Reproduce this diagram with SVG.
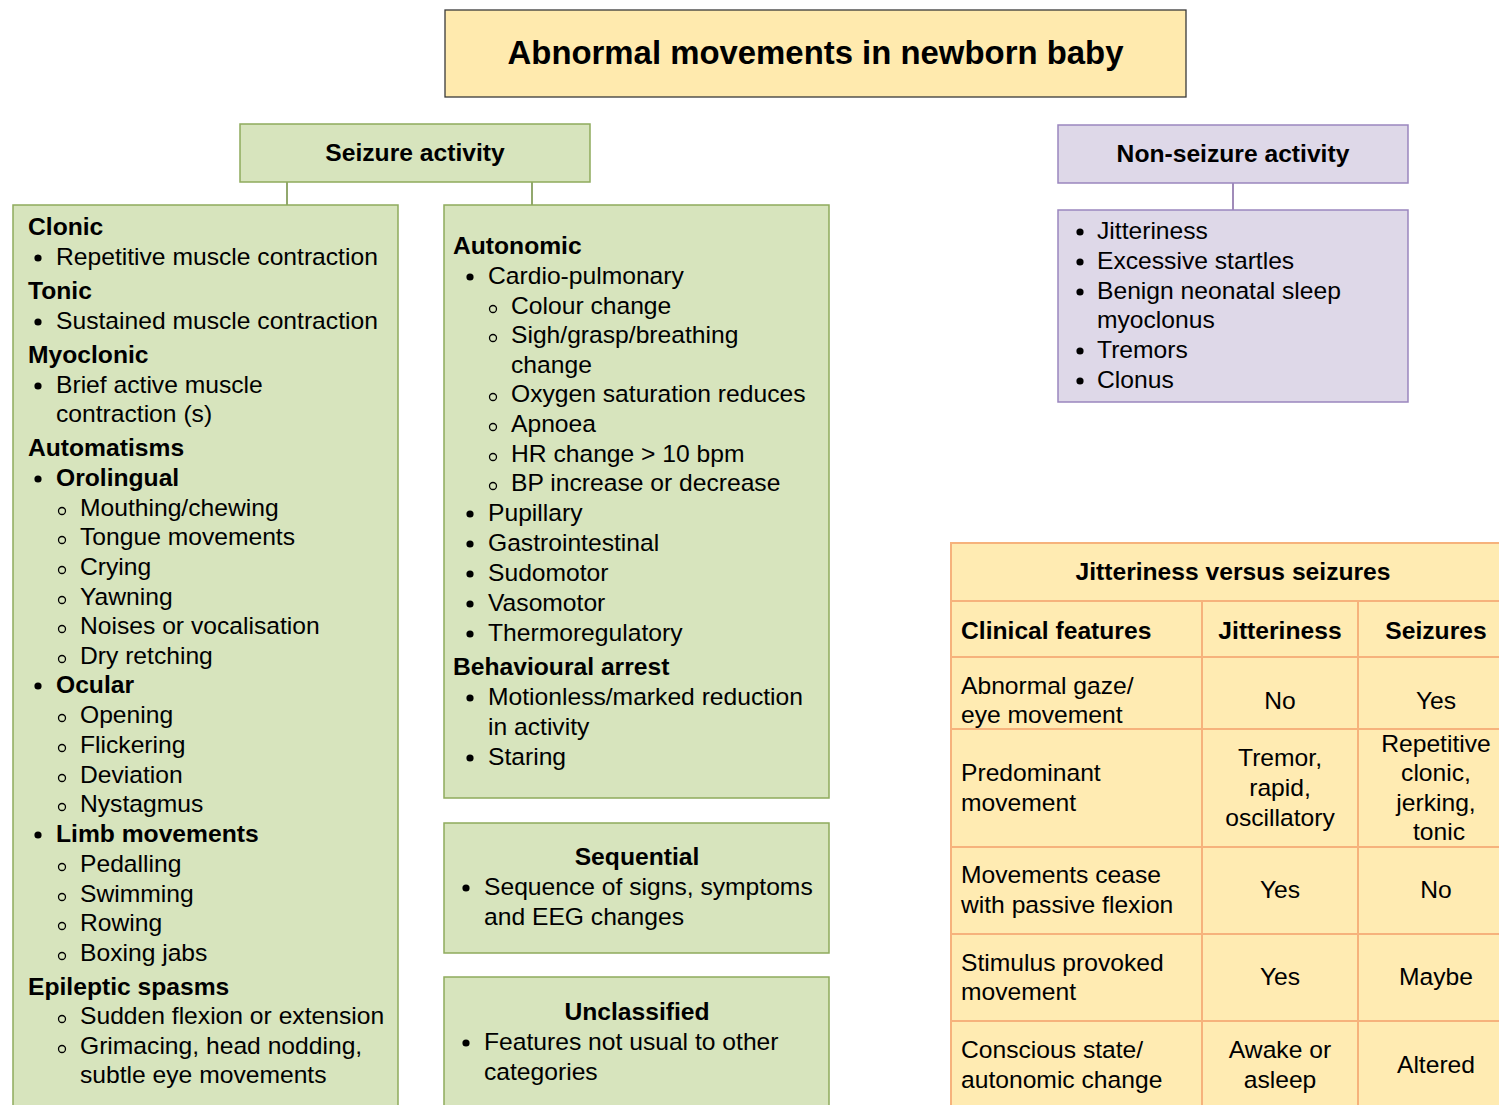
<svg xmlns="http://www.w3.org/2000/svg" width="1499" height="1105" viewBox="0 0 1499 1105">
<style>
text{font-family:"Liberation Sans",Arial,sans-serif;font-size:24.65px;fill:#000}
.b{font-weight:bold}
.c{text-anchor:middle}
.g{fill:#D7E4BD;stroke:#8FAB5C;stroke-width:1.5}
.p{fill:#DED8E8;stroke:#9A86BE;stroke-width:1.5}
.y{fill:#FFEAAE;stroke:#3a3a3a;stroke-width:1.3}
.tb{fill:#FFEBB2;stroke:none}
.tl{stroke:#F6B27C;stroke-width:2;fill:none}
.dot{fill:#000}
.sub{fill:none;stroke:#000;stroke-width:1.3}
.cg{stroke:#6E8B3D;stroke-width:1.5}
.cp{stroke:#8064A2;stroke-width:1.5}
</style>
<defs>
<circle id="bu" r="3.6" class="dot"/>
<circle id="sb" r="3.5" class="sub"/>
</defs>
<rect width="1499" height="1105" fill="#fff"/>

<g id="connectors">
<line class="cg" x1="287" y1="182" x2="287" y2="205"/>
<line class="cg" x1="532" y1="182" x2="532" y2="205"/>
<line class="cp" x1="1233" y1="183" x2="1233" y2="210"/>
</g>

<g id="title">
<rect class="y" x="445" y="10" width="741" height="87"/>
<text class="b c" x="815.5" y="64" style="font-size:32.9px">Abnormal movements in newborn baby</text>
</g>

<g id="seizure">
<rect class="g" x="240" y="124" width="350" height="58"/>
<text class="b c" x="415" y="161">Seizure activity</text>
</g>

<g id="seizure-left">
<rect class="g" x="13" y="205" width="385" height="910"/>
<text class="b" x="28" y="235">Clonic</text>
<use href="#bu" x="38" y="258"/><text x="56" y="265">Repetitive muscle contraction</text>
<text class="b" x="28" y="299">Tonic</text>
<use href="#bu" x="38" y="322"/><text x="56" y="329">Sustained muscle contraction</text>
<text class="b" x="28" y="363">Myoclonic</text>
<use href="#bu" x="38" y="386"/><text x="56" y="393">Brief active muscle</text>
<text x="56" y="422">contraction (s)</text>
<text class="b" x="28" y="456">Automatisms</text>
<use href="#bu" x="38" y="479"/><text class="b" x="56" y="486">Orolingual</text>
<use href="#sb" x="62" y="511"/><text x="80" y="516">Mouthing/chewing</text>
<use href="#sb" x="62" y="540"/><text x="80" y="545">Tongue movements</text>
<use href="#sb" x="62" y="570"/><text x="80" y="575">Crying</text>
<use href="#sb" x="62" y="600"/><text x="80" y="605">Yawning</text>
<use href="#sb" x="62" y="629"/><text x="80" y="634">Noises or vocalisation</text>
<use href="#sb" x="62" y="659"/><text x="80" y="664">Dry retching</text>
<use href="#bu" x="38" y="686"/><text class="b" x="56" y="693">Ocular</text>
<use href="#sb" x="62" y="718"/><text x="80" y="723">Opening</text>
<use href="#sb" x="62" y="748"/><text x="80" y="753">Flickering</text>
<use href="#sb" x="62" y="778"/><text x="80" y="783">Deviation</text>
<use href="#sb" x="62" y="807"/><text x="80" y="812">Nystagmus</text>
<use href="#bu" x="38" y="835"/><text class="b" x="56" y="842">Limb movements</text>
<use href="#sb" x="62" y="867"/><text x="80" y="872">Pedalling</text>
<use href="#sb" x="62" y="897"/><text x="80" y="902">Swimming</text>
<use href="#sb" x="62" y="926"/><text x="80" y="931">Rowing</text>
<use href="#sb" x="62" y="956"/><text x="80" y="961">Boxing jabs</text>
<text class="b" x="28" y="995">Epileptic spasms</text>
<use href="#sb" x="62" y="1019"/><text x="80" y="1024">Sudden flexion or extension</text>
<use href="#sb" x="62" y="1049"/><text x="80" y="1054">Grimacing, head nodding,</text>
<text x="80" y="1083">subtle eye movements</text>
</g>

<g id="seizure-middle">
<rect class="g" x="444" y="205" width="385" height="593"/>
<text class="b" x="453" y="254">Autonomic</text>
<use href="#bu" x="470" y="277"/><text x="488" y="284">Cardio-pulmonary</text>
<use href="#sb" x="493" y="309"/><text x="511" y="314">Colour change</text>
<use href="#sb" x="493" y="338"/><text x="511" y="343">Sigh/grasp/breathing</text>
<text x="511" y="373">change</text>
<use href="#sb" x="493" y="397"/><text x="511" y="402">Oxygen saturation reduces</text>
<use href="#sb" x="493" y="427"/><text x="511" y="432">Apnoea</text>
<use href="#sb" x="493" y="457"/><text x="511" y="462">HR change &gt; 10 bpm</text>
<use href="#sb" x="493" y="486"/><text x="511" y="491">BP increase or decrease</text>
<use href="#bu" x="470" y="514"/><text x="488" y="521">Pupillary</text>
<use href="#bu" x="470" y="544"/><text x="488" y="551">Gastrointestinal</text>
<use href="#bu" x="470" y="574"/><text x="488" y="581">Sudomotor</text>
<use href="#bu" x="470" y="604"/><text x="488" y="611">Vasomotor</text>
<use href="#bu" x="470" y="634"/><text x="488" y="641">Thermoregulatory</text>
<text class="b" x="453" y="675">Behavioural arrest</text>
<use href="#bu" x="470" y="698"/><text x="488" y="705">Motionless/marked reduction</text>
<text x="488" y="735">in activity</text>
<use href="#bu" x="470" y="758"/><text x="488" y="765">Staring</text>
</g>

<g id="sequential">
<rect class="g" x="444" y="823" width="385" height="130"/>
<text class="b c" x="637" y="865">Sequential</text>
<use href="#bu" x="466" y="888"/><text x="484" y="895">Sequence of signs, symptoms</text>
<text x="484" y="925">and EEG changes</text>
</g>

<g id="unclassified">
<rect class="g" x="444" y="977" width="385" height="140"/>
<text class="b c" x="637" y="1020">Unclassified</text>
<use href="#bu" x="466" y="1043"/><text x="484" y="1050">Features not usual to other</text>
<text x="484" y="1080">categories</text>
</g>

<g id="non-seizure">
<rect class="p" x="1058" y="125" width="350" height="58"/>
<text class="b c" x="1233" y="162">Non-seizure activity</text>
</g>

<g id="non-seizure-list">
<rect class="p" x="1058" y="210" width="350" height="192"/>
<use href="#bu" x="1080" y="232"/><text x="1097" y="239">Jitteriness</text>
<use href="#bu" x="1080" y="262"/><text x="1097" y="269">Excessive startles</text>
<use href="#bu" x="1080" y="292"/><text x="1097" y="299">Benign neonatal sleep</text>
<text x="1097" y="328">myoclonus</text>
<use href="#bu" x="1080" y="351"/><text x="1097" y="358">Tremors</text>
<use href="#bu" x="1080" y="381"/><text x="1097" y="388">Clonus</text>
</g>

<g id="table">
<rect class="tb" x="951" y="543" width="560" height="570"/>
<path class="tl" d="M951 1110V543H1510M951 601H1510M951 657H1510M951 729H1510M951 847H1510M951 934H1510M951 1021H1510M1202 601V1110M1358 601V1110"/>
<text class="b c" x="1233" y="580">Jitteriness versus seizures</text>
<text class="b" x="961" y="639">Clinical features</text>
<text class="b c" x="1280" y="639">Jitteriness</text>
<text class="b c" x="1436" y="639">Seizures</text>
<text x="961" y="694">Abnormal gaze/</text>
<text x="961" y="723">eye movement</text>
<text class="c" x="1280" y="709">No</text>
<text class="c" x="1436" y="709">Yes</text>
<text x="961" y="781">Predominant</text>
<text x="961" y="811">movement</text>
<text class="c" x="1280" y="766">Tremor,</text>
<text class="c" x="1280" y="796">rapid,</text>
<text class="c" x="1280" y="826">oscillatory</text>
<text class="c" x="1436" y="752">Repetitive</text>
<text class="c" x="1436" y="781">clonic,</text>
<text class="c" x="1436" y="811">jerking,</text>
<text class="c" x="1439" y="840">tonic</text>
<text x="961" y="883">Movements cease</text>
<text x="961" y="913">with passive flexion</text>
<text class="c" x="1280" y="898">Yes</text>
<text class="c" x="1436" y="898">No</text>
<text x="961" y="971">Stimulus provoked</text>
<text x="961" y="1000">movement</text>
<text class="c" x="1280" y="985">Yes</text>
<text class="c" x="1436" y="985">Maybe</text>
<text x="961" y="1058">Conscious state/</text>
<text x="961" y="1088">autonomic change</text>
<text class="c" x="1280" y="1058">Awake or</text>
<text class="c" x="1280" y="1088">asleep</text>
<text class="c" x="1436" y="1073">Altered</text>
</g>
</svg>
